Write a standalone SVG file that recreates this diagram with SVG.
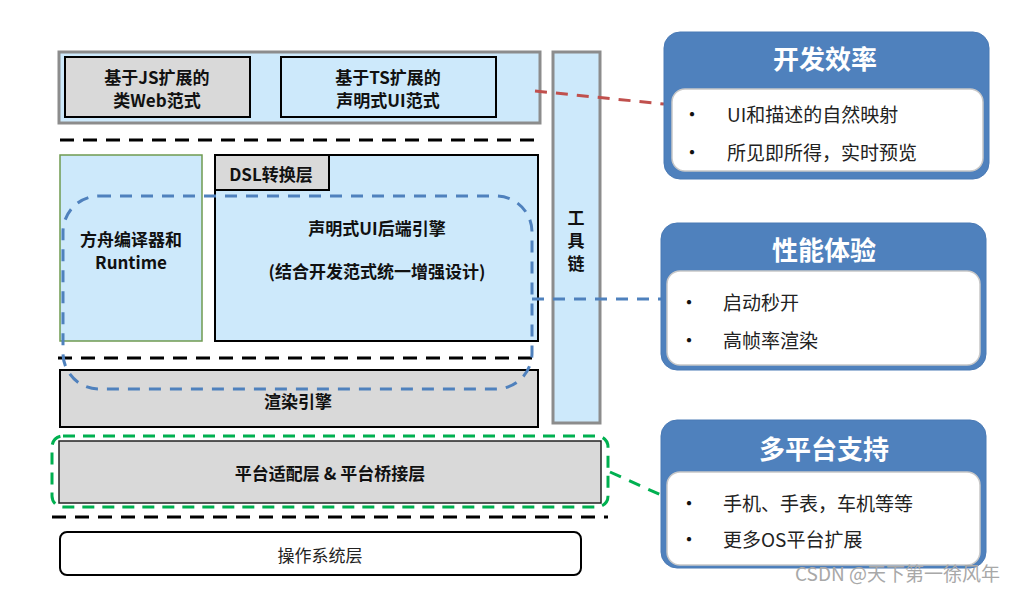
<svg xmlns="http://www.w3.org/2000/svg" width="1015" height="590" viewBox="0 0 1015 590">
<style>
text{font-family:"Noto Sans CJK SC","Noto Sans",sans-serif;text-anchor:middle;dominant-baseline:central}
.b{font-weight:bold;font-size:17px;fill:#111}
.lb{fill:#cde9fb}
.gy{fill:#d9d9d9}
.blk{stroke:#000;stroke-width:2}
.gr{stroke:#8c8c8c;stroke-width:3}
.sep{stroke:#000;stroke-width:3;stroke-dasharray:14 9;fill:none}
.panel{fill:#4f81bd;stroke:#4a7ab5;stroke-width:1}
.inner{fill:#fff;stroke:#c8c8c8;stroke-width:1.5}
.title{fill:#fff;font-weight:bold;font-size:26px}
.item{fill:#222;font-size:19px;text-anchor:start}
.dot{fill:#111;font-size:20px}
</style>
<line class="sep" x1="60" y1="140" x2="540" y2="140"/>
<line class="sep" x1="58" y1="358" x2="540" y2="358"/>
<line class="sep" x1="52" y1="517" x2="608" y2="517"/>
<g id="top-container"><rect x="59" y="52" width="481" height="71" class="lb gr"/></g>
<g id="js-web"><rect x="65" y="57" width="185" height="60" class="gy blk"/>
<text class="b" x="157" y="76">基于JS扩展的</text><text class="b" x="157" y="99">类Web范式</text></g>
<g id="ts-ui"><rect x="281" y="57" width="215" height="60" class="lb blk"/>
<text class="b" x="388" y="76">基于TS扩展的</text><text class="b" x="388" y="99">声明式UI范式</text></g>
<g id="toolchain"><rect x="553" y="52" width="47" height="371" class="lb gr"/>
<text class="b" x="576" y="216">工</text><text class="b" x="576" y="239">具</text><text class="b" x="576" y="262">链</text></g>
<g id="runtime"><rect x="60" y="155" width="142" height="186" class="lb" stroke="#6f9a50" stroke-width="1.5"/>
<text class="b" x="131" y="238">方舟编译器和</text><text class="b" x="131" y="261">Runtime</text></g>
<g id="engine"><rect x="215" y="155" width="323" height="186" class="lb blk"/>
<text class="b" x="377" y="227">声明式UI后端引擎</text><text class="b" x="377" y="270">(结合开发范式统一增强设计)</text></g>
<g id="dsl"><rect x="215" y="155" width="114" height="35" class="gy blk"/>
<text class="b" x="271" y="173">DSL转换层</text></g>
<g id="render"><rect x="60" y="370" width="478" height="57" class="gy blk"/>
<text class="b" x="298" y="400">渲染引擎</text></g>
<g id="platform"><rect x="59" y="441" width="542" height="62" class="gy" stroke="#222" stroke-width="1.5"/>
<text class="b" x="330" y="472">平台适配层 &amp; 平台桥接层</text></g>
<g id="os"><rect x="60" y="532" width="521" height="43" rx="7" fill="#fff" class="blk"/>
<text x="320" y="554" font-size="17" fill="#222">操作系统层</text></g>
<g id="groups" fill="none" stroke-width="3">
<rect x="63" y="196" width="469" height="193" rx="36" stroke="#4f81bd" stroke-dasharray="12 9"/>
<rect x="52" y="436" width="556" height="71" rx="11" stroke="#00b050" stroke-dasharray="12 8"/>
</g>
<g id="connectors" fill="none" stroke-width="3" stroke-dasharray="12 9">
<line x1="535" y1="91" x2="664" y2="104" stroke="#c0504d"/>
<line x1="532" y1="299" x2="668" y2="299" stroke="#4f81bd"/>
<line x1="610" y1="472" x2="661" y2="495" stroke="#00b050"/>
</g>
<g id="panel-dev">
<rect x="664" y="32" width="325" height="147" rx="16" class="panel"/>
<text class="title" x="825" y="57">开发效率</text>
<rect x="672" y="89" width="311" height="82" rx="13" class="inner"/>
<text class="dot" x="692" y="113">•</text><text class="item" x="727" y="113">UI和描述的自然映射</text>
<text class="dot" x="692" y="151">•</text><text class="item" x="727" y="151">所见即所得，实时预览</text>
</g>
<g id="panel-perf">
<rect x="661" y="223" width="325" height="147" rx="16" class="panel"/>
<text class="title" x="824" y="248">性能体验</text>
<rect x="667" y="271" width="313" height="94" rx="13" class="inner"/>
<text class="dot" x="689" y="301">•</text><text class="item" x="723" y="301">启动秒开</text>
<text class="dot" x="689" y="339">•</text><text class="item" x="723" y="339">高帧率渲染</text>
</g>
<g id="panel-multi">
<rect x="661" y="420" width="325" height="148" rx="16" class="panel"/>
<text class="title" x="824" y="447">多平台支持</text>
<rect x="667" y="472" width="313" height="93" rx="13" class="inner"/>
<text class="dot" x="689" y="502">•</text><text class="item" x="723" y="502">手机、手表，车机等等</text>
<text class="dot" x="689" y="538">•</text><text class="item" x="723" y="538">更多OS平台扩展</text>
</g>
<text x="1000" y="572" font-size="19" fill="#a8a8a8" style="text-anchor:end">CSDN @天下第一徐风年</text>
</svg>
